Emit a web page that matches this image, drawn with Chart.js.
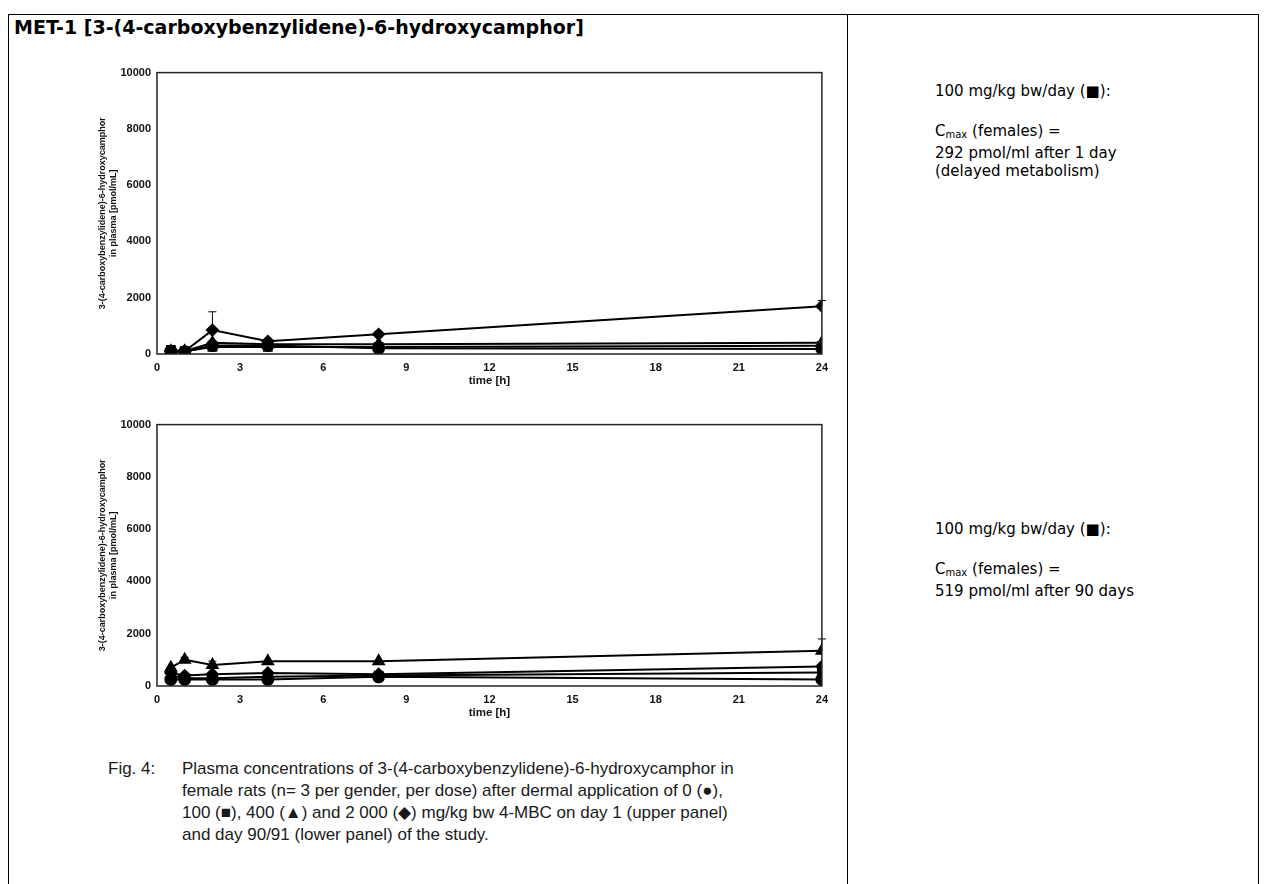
<!DOCTYPE html>
<html>
<head>
<meta charset="utf-8">
<script src="https://cdn.jsdelivr.net/npm/chart.js@4.4.0/dist/chart.umd.min.js"></script>
<style>
  body { margin: 0; background: #fff; width: 1266px; height: 884px; position: relative; overflow: hidden; font-family: "DejaVu Sans", Verdana, sans-serif; color: #000; }
  .line { position: absolute; background: #000; }
  .title { position: absolute; left: 14px; top: 16px; font-weight: bold; font-size: 19px; white-space: nowrap; }
  .note { position: absolute; left: 935px; font-size: 15px; line-height: 18px; white-space: nowrap; }
  .note sub { font-size: 10px; vertical-align: -2px; }
  .cap { position: absolute; top: 758px; font-family: "Liberation Sans", Arial, sans-serif; font-size: 17px; line-height: 22px; color: #1a1a1a; }
  canvas { position: absolute; }
</style>
</head>
<body>
<div class="line" style="left:8px;top:14px;width:1251px;height:1px"></div>
<div class="line" style="left:8px;top:14px;width:1px;height:870px"></div>
<div class="line" style="left:847px;top:14px;width:1px;height:870px"></div>
<div class="line" style="left:1258px;top:14px;width:1px;height:870px"></div>

<div class="title">MET-1 [3-(4-carboxybenzylidene)-6-hydroxycamphor]</div>

<div class="note" style="top:82px">100 mg/kg bw/day (■):</div>
<div class="note" style="top:122px">C<sub>max</sub> (females) =<br>292 pmol/ml after 1 day<br>(delayed metabolism)</div>

<div class="note" style="top:520px">100 mg/kg bw/day (■):</div>
<div class="note" style="top:560px">C<sub>max</sub> (females) =<br>519 pmol/ml after 90 days</div>

<div class="cap" style="left:108px">Fig. 4:</div>
<div class="cap" style="left:182px">Plasma concentrations of 3-(4-carboxybenzylidene)-6-hydroxycamphor in<br>female rats (n= 3 per gender, per dose) after dermal application of 0 (●),<br>100 (■), 400 (▲) and 2 000 (◆) mg/kg bw 4-MBC on day 1 (upper panel)<br>and day 90/91 (lower panel) of the study.</div>

<canvas id="c1" width="745" height="330" style="left:90px;top:60px"></canvas>
<canvas id="c2" width="745" height="310" style="left:90px;top:412px"></canvas>

<script>
// sampling times (h)
const times = [0.5, 1, 2, 4, 8, 24];
const yTitle = ['3-(4-carboxybenzylidene)-6-hydroxycamphor', 'in plasma [pmol/mL]'];

// day 1 (upper panel)
const day1Dose0 = [100, 80, 300, 300, 200, 180];
const day1Dose100 = [150, 100, 250, 250, 250, 292];
const day1Dose400 = [100, 100, 400, 350, 350, 400];
const day1Dose2000 = [100, 100, 850, 450, 700, 1700];
const day1Err2000 = [0, 0, 650, 0, 100, 200];

// day 90/91 (lower panel)
const day90Dose0 = [250, 250, 250, 250, 350, 250];
const day90Dose100 = [400, 300, 300, 350, 400, 519];
const day90Dose400 = [700, 1000, 800, 950, 950, 1350];
const day90Err400 = [0, 100, 150, 0, 0, 450];
const day90Dose2000 = [500, 400, 450, 500, 450, 750];

function pts(vals) {
  return vals.map((v, i) => ({ x: times[i], y: v }));
}

function ds(label, vals, shape, err) {
  return {
    label: label,
    data: pts(vals),
    err: err || null,
    borderColor: '#000',
    backgroundColor: '#000',
    borderWidth: 2,
    pointStyle: shape,
    pointRadius: shape === 'triangle' ? 6 : 5.5,
    tension: 0
  };
}

// box round the plot plus the error bars
const framePlugin = {
  id: 'frame',
  afterDatasetsDraw(chart) {
    const ctx = chart.ctx;
    const a = chart.chartArea;
    const xs = chart.scales.x, ys = chart.scales.y;
    ctx.save();
    ctx.strokeStyle = '#000';
    ctx.lineWidth = 1;
    chart.data.datasets.forEach(d => {
      if (!d.err) return;
      d.data.forEach((p, i) => {
        const e = d.err[i];
        if (!e) return;
        const px = xs.getPixelForValue(p.x);
        const y0 = ys.getPixelForValue(p.y);
        const y1 = ys.getPixelForValue(p.y + e);
        ctx.beginPath();
        ctx.moveTo(px, y0);
        ctx.lineTo(px, y1);
        ctx.moveTo(px - 4, y1);
        ctx.lineTo(px + 4, y1);
        ctx.stroke();
      });
    });
    ctx.lineWidth = 1.5;
    ctx.strokeStyle = '#222';
    ctx.strokeRect(a.left, a.top, a.right - a.left, a.bottom - a.top);
    ctx.restore();
  }
};

function makeChart(id, sets, xH) {
  const tickFont = { family: 'Liberation Sans', size: 11, weight: 'bold' };
  new Chart(document.getElementById(id), {
    type: 'line',
    data: { datasets: sets },
    options: {
      responsive: false,
      animation: false,
      layout: { padding: { left: 5, right: 10, top: 11, bottom: 2 } },
      plugins: { legend: { display: false }, tooltip: { enabled: false } },
      scales: {
        x: {
          type: 'linear', min: 0, max: 24,
          grid: { display: false, drawTicks: false }, border: { display: false },
          ticks: { stepSize: 3, color: '#111', font: tickFont, padding: 7, maxRotation: 0 },
          title: { display: true, text: 'time [h]', color: '#111', font: { family: 'Liberation Sans', size: 11.5, weight: 'bold' }, padding: 0 },
          afterFit: s => { s.height = xH; }
        },
        y: {
          min: 0, max: 10000,
          grid: { display: false, drawTicks: false }, border: { display: false },
          ticks: { stepSize: 2000, color: '#111', font: tickFont, padding: 6, callback: v => String(v) },
          title: { display: true, text: yTitle, color: '#111', font: { family: 'Liberation Sans', size: 9, weight: 'bold' }, padding: { top: 2, bottom: 0 } },
          afterFit: s => { s.width = 62; }
        }
      }
    },
    plugins: [framePlugin]
  });
}

makeChart('c1', [
  ds('0', day1Dose0, 'circle'),
  ds('100', day1Dose100, 'rect'),
  ds('400', day1Dose400, 'triangle'),
  ds('2000', day1Dose2000, 'rectRot', day1Err2000)
], 34);

makeChart('c2', [
  ds('0', day90Dose0, 'circle'),
  ds('100', day90Dose100, 'rect'),
  ds('400', day90Dose400, 'triangle', day90Err400),
  ds('2000', day90Dose2000, 'rectRot')
], 34);
</script>
</body>
</html>
